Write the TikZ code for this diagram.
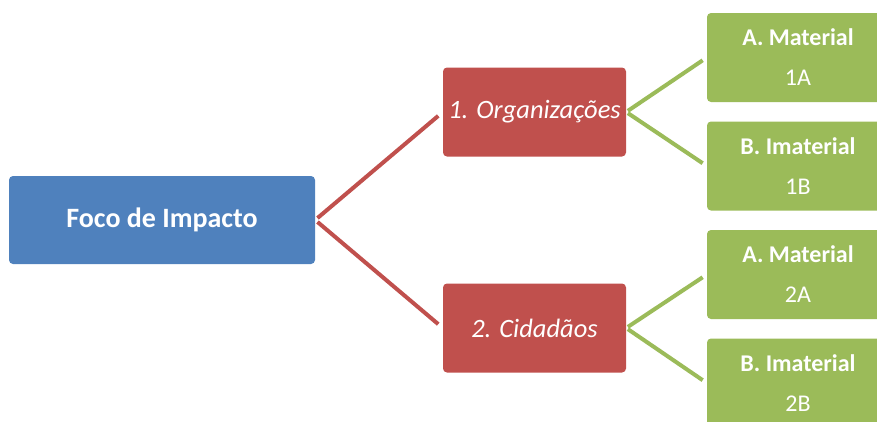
\documentclass[tikz,border=0pt]{standalone}
\usepackage{fontspec}
\setmainfont{Carlito}
\usepackage{tikz}

\definecolor{focoblue}{HTML}{4F81BD}
\definecolor{grupored}{HTML}{C0504D}
\definecolor{tipogreen}{HTML}{9BBB59}

\begin{document}
\begin{tikzpicture}[x=1pt, y=-1pt,
        box/.style      = {rectangle, rounded corners=4pt, text=white, align=center, inner sep=0pt},
        focobox/.style  = {box, fill=focoblue, minimum width=306pt, minimum height=88pt,
                           font=\fontsize{28}{32}\selectfont\bfseries},
        grupobox/.style = {box, fill=grupored, minimum width=183pt, minimum height=89pt,
                           font=\fontsize{26.5}{30}\selectfont\itshape},
        tipobox/.style  = {box, fill=tipogreen, minimum width=182pt, minimum height=89pt,
                           font=\fontsize{24}{40}\selectfont},
        ramo/.style     = {line width=4pt}]
        \useasboundingbox (0,0) rectangle (877,421);
        \clip (0,0) rectangle (877,421);

        \node [focobox]  (foco) at (162,220)   {Foco de Impacto};                     %nivel 0
        \node [grupobox] (org)  at (534.5,112) {1. Organizações};                     %nivel 1
        \node [grupobox] (cid)  at (534.5,328) {2. Cidadãos};                         %
        \node [tipobox]  (orgA) at (798,57.5)  {\textbf{A. Material}\\1A};            %nivel 2
        \node [tipobox]  (orgB) at (798,166)   {\textbf{B. Imaterial}\\1B};           %
        \node [tipobox]  (cidA) at (798,274.5) {\textbf{A. Material}\\2A};            %
        \node [tipobox]  (cidB) at (798,383)   {\textbf{B. Imaterial}\\2B};           %

        \draw [ramo, grupored, shorten <=3pt, shorten >=6pt]   (foco.east) -- (org.west);
        \draw [ramo, grupored, shorten <=3pt, shorten >=6pt]   (foco.east) -- (cid.west);
        \draw [ramo, tipogreen, shorten <=2pt, shorten >=5pt]  (org.east)  -- (orgA.west);
        \draw [ramo, tipogreen, shorten <=2pt, shorten >=5pt]  (org.east)  -- (orgB.west);
        \draw [ramo, tipogreen, shorten <=2pt, shorten >=5pt]  (cid.east)  -- (cidA.west);
        \draw [ramo, tipogreen, shorten <=2pt, shorten >=5pt]  (cid.east)  -- (cidB.west);
      \end{tikzpicture}
\end{document}
